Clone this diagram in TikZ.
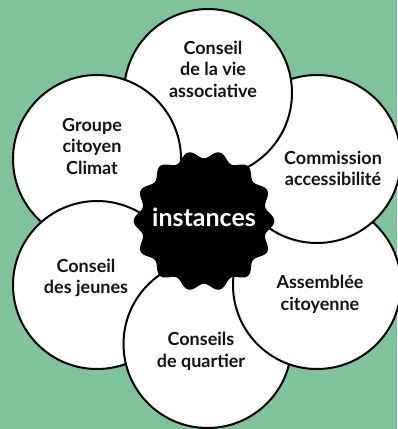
\documentclass[tikz,border=0pt]{standalone}
\usepackage{fontspec}
\setmainfont{Lato}
\definecolor{bggreen}{RGB}{126,195,153}
\definecolor{ink}{RGB}{20,20,20}
\begin{document}
\begin{tikzpicture}[x=1pt,y=-1pt,
 circ/.style={circle,draw=black,line width=2pt,fill=white,minimum size=168pt,inner sep=0pt},
 lab/.style={font=\bfseries\fontsize{18}{21.5}\selectfont,align=center,text=ink,inner sep=0pt},
 hub/.style={font=\bfseries\fontsize{25}{28}\selectfont,text=white,inner sep=0pt}]
\fill[bggreen] (0,0) rectangle (397,429);
\useasboundingbox (0,0) rectangle (397,429);
% circles (cyclic overlap)
\node[circ] (cgroupe) at (97,159) {};
\node[circ] (cjeunes) at (97,285) {};
\node[circ] (cquartier) at (207.5,344) {};
\node[circ] (cassemblee) at (317,285) {};
\node[circ] (ccommission) at (317,159) {};
\node[circ] (cvie) at (208,93) {};
\begin{scope}
\clip (cvie.center) circle (86);
\node[circ] (cgroupetop) at (97,159) {};
\end{scope}
% central scalloped shape
\fill[black] plot[domain=0:360,samples=281,smooth,variable=\t]
 ({204+(66.5-3.8*cos(14*(\t-90)))*cos(\t)},{221+(66.5-3.8*cos(14*(\t-90)))*sin(\t)}) -- cycle;
\node[hub] (hub) at (204,217) {instances};
% labels
\node[lab] (lvie) at (213,69) {Conseil\\de la vie\\associative};
\node[lab] (lgroupe) at (92,146) {Groupe\\citoyen\\Climat};
\node[lab] (lcommission) at (333,168.5) {Commission\\accessibilité};
\node[lab] (ljeunes) at (86,278) {Conseil\\des jeunes};
\node[lab] (lassemblee) at (320,294.5) {Assemblée\\citoyenne};
\node[lab] (lquartier) at (201,351.5) {Conseils\\de quartier};
\end{tikzpicture}
\end{document}
